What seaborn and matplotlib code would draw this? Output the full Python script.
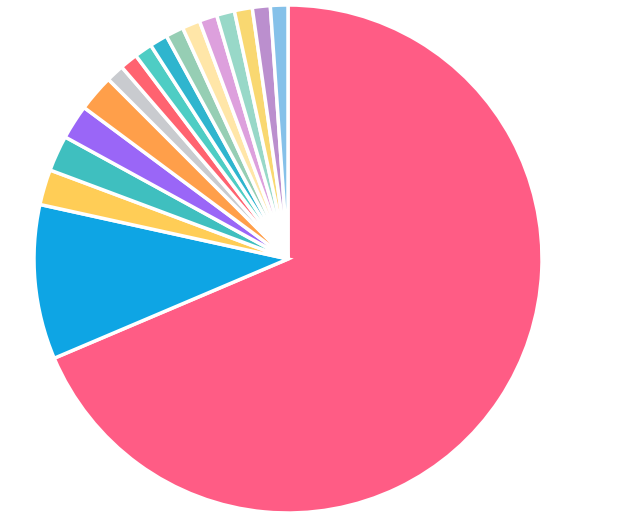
import matplotlib
matplotlib.use("Agg")
import matplotlib.pyplot as plt
import seaborn as sns

# Data (slice sizes in degrees)
labels = ["A", "B", "C", "D", "E", "F", "G", "H", "I", "J", "K", "L", "M", "N", "O", "P", "Q"]
values = [247.0, 35.4, 8.1, 8.2, 7.9, 8.4, 4.1, 4.1, 4.1, 4.1, 4.1, 4.1, 4.1, 4.1, 4.1, 4.1, 4.0]
colors = ["#FF5C85", "#0EA5E4", "#FFCD56", "#3FBFBF", "#9A66F7", "#FF9F4A", "#C9CBCF",
          "#FF6370", "#4ECDC4", "#2FB5CE", "#96CEB4", "#FFE6A8", "#DDA0DD", "#98D8C8",
          "#F9D871", "#BB8FCE", "#85C1E9"]

sns.set_theme(style="white")
fig = plt.figure(figsize=(6.22, 5.30), dpi=100)
ax = fig.add_axes([0, 0, 1, 1])
ax.pie(values, colors=sns.color_palette(colors), startangle=90, counterclock=False,
       radius=1.0, center=(0, 0),
       wedgeprops=dict(edgecolor="white", linewidth=2.5))
R = 254.0
ax.set_xlim(-288 / R, (622 - 288) / R)
ax.set_ylim(-(530 - 259) / R, 259 / R)
ax.set_aspect("auto")
ax.axis("off")
fig.savefig("out.png", dpi=100)
